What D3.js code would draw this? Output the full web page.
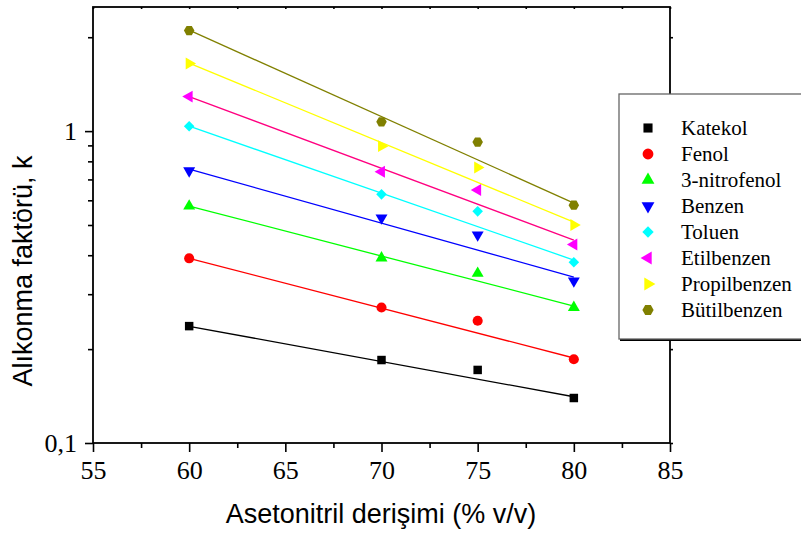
<!DOCTYPE html>
<html>
<head>
<meta charset="utf-8">
<script src="https://cdn.jsdelivr.net/npm/d3@7/dist/d3.min.js"></script>
<style>
  html, body { margin: 0; padding: 0; background: #fff; }
  svg { display: block; }
</style>
</head>
<body>
<svg id="chart" width="801" height="535"></svg>
<script>
// Acetonitrile concentration (% v/v) at which retention was measured
const concentrations = [60, 70, 75, 80];

// Retention factor k for each solute
const katekol      = [0.237, 0.1845, 0.1715, 0.1394];
const fenol        = [0.391, 0.272, 0.2466, 0.1855];
const nitrofenol   = [0.575, 0.392, 0.350, 0.272];
const benzen       = [0.746, 0.527, 0.465, 0.331];
const toluen       = [1.037, 0.627, 0.553, 0.380];
const etilbenzen   = [1.29, 0.741, 0.647, 0.433];
const propilbenzen = [1.648, 0.895, 0.765, 0.500];
const butilbenzen  = [2.10, 1.071, 0.922, 0.579];

// Fitted trend lines (log k vs. concentration): k at 60 % and at 80 %
const fitRange = [60, 80];
const fitStart = [0.2367, 0.391, 0.575, 0.755, 1.037, 1.29, 1.652, 2.107];
const fitEnd   = [0.1407, 0.1873, 0.2749, 0.3404, 0.3859, 0.4473, 0.511, 0.5877];

const seriesNames = ["Katekol", "Fenol", "3-nitrofenol", "Benzen", "Toluen",
                     "Etilbenzen", "Propilbenzen", "Bütilbenzen"];

// Axis ticks
const xMajorTicks = [55, 60, 65, 70, 75, 80, 85];
const xMinorTicks = [57.5, 62.5, 67.5, 72.5, 77.5, 82.5];
const yMajorTicks = [0.1, 1];
const yMinorTicks = [0.2, 0.3, 0.4, 0.5, 0.6, 0.7, 0.8, 0.9, 2];
const yTickLabels = ["0,1", "1"];

const xTitle = "Asetonitril derişimi (% v/v)";
const yTitle = "Alıkonma faktörü, k";

// Styling per series
const markerColors = ["#000000", "#ff0000", "#00ff00", "#0000ff", "#00ffff", "#ff00ff", "#ffff00", "#808000"];
const lineColors   = ["#000000", "#ff0000", "#00ff00", "#0000ff", "#00ffff", "#ff0080", "#ffff00", "#808000"];

const seriesValues = [katekol, fenol, nitrofenol, benzen, toluen, etilbenzen, propilbenzen, butilbenzen];

// Hexagon symbol (flat top/bottom)
const symbolHexagon = {
  draw(context, size) {
    const r = Math.sqrt(size / (1.5 * Math.sqrt(3)));
    for (let i = 0; i < 6; i++) {
      const a = Math.PI / 3 * i;
      const px = r * Math.cos(a), py = r * Math.sin(a);
      if (i === 0) context.moveTo(px, py); else context.lineTo(px, py);
    }
    context.closePath();
  }
};

// marker shape: [symbol type, size, rotation]
const markers = [
  [d3.symbolSquare, 72, 0],
  [d3.symbolCircle, 80, 0],
  [d3.symbolTriangle, 62, 0],
  [d3.symbolTriangle, 62, 180],
  [d3.symbolSquare, 56, 45],
  [d3.symbolTriangle, 62, -90],
  [d3.symbolTriangle, 62, 90],
  [symbolHexagon, 72, 0]
];

const svg = d3.select("#chart");

const x = d3.scaleLinear().domain([55, 85]).range([93, 670]);
const y = d3.scaleLog().domain([0.1, 2.5]).range([443, 7]);

const serif = "'Liberation Serif', 'Times New Roman', serif";
const sans = "'Liberation Sans', Arial, sans-serif";

const line = d3.line().x(d => x(d[0])).y(d => y(d[1]));

const plot = svg.append("g");
seriesValues.forEach((vals, i) => {
  plot.append("path")
    .attr("d", line([[fitRange[0], fitStart[i]], [fitRange[1], fitEnd[i]]]))
    .attr("fill", "none")
    .attr("stroke", lineColors[i])
    .attr("stroke-width", 1.3);
});
seriesValues.forEach((vals, i) => {
  const [type, size, rot] = markers[i];
  const sym = d3.symbol().type(type).size(size);
  plot.selectAll(null)
    .data(vals.map((v, j) => [concentrations[j], v]))
    .join("path")
    .attr("d", sym)
    .attr("transform", d => `translate(${x(d[0])},${y(d[1])}) rotate(${rot})`)
    .attr("fill", markerColors[i]);
});

// Frame
svg.append("rect")
  .attr("x", 93).attr("y", 7)
  .attr("width", 670 - 93).attr("height", 443 - 7)
  .attr("fill", "none").attr("stroke", "#000").attr("stroke-width", 1.8);

function styleAxis(g) {
  g.select(".domain").remove();
  g.selectAll(".tick line").attr("stroke", "#000").attr("stroke-width", 1.6);
  g.selectAll(".tick text").attr("font-family", serif).attr("font-size", 26).attr("fill", "#000");
}

// Bottom axis
svg.append("g").attr("transform", "translate(0,443)")
  .call(d3.axisBottom(x).tickValues(xMajorTicks).tickSize(9).tickPadding(8.5).tickFormat(d3.format("d")))
  .call(styleAxis);
svg.append("g").attr("transform", "translate(0,443)")
  .call(d3.axisBottom(x).tickValues(xMinorTicks).tickSize(5).tickFormat(""))
  .call(styleAxis);

// Left axis
svg.append("g").attr("transform", "translate(93,0)")
  .call(d3.axisLeft(y).tickValues(yMajorTicks).tickSize(8).tickPadding(8)
    .tickFormat((d, i) => yTickLabels[i]))
  .call(styleAxis);
svg.append("g").attr("transform", "translate(93,0)")
  .call(d3.axisLeft(y).tickValues(yMinorTicks).tickSize(5).tickFormat(""))
  .call(styleAxis);

// Top and right axes: short ticks, no labels
svg.append("g").attr("transform", "translate(0,7)")
  .call(d3.axisBottom(x).tickValues(xMajorTicks.concat(xMinorTicks)).tickSize(2).tickFormat(""))
  .call(styleAxis);
svg.append("g").attr("transform", "translate(670,0)")
  .call(d3.axisRight(y).tickValues(yMajorTicks.concat(yMinorTicks)).tickSize(3).tickFormat(""))
  .call(styleAxis);

// Axis titles
svg.append("text")
  .attr("x", 381).attr("y", 523)
  .attr("text-anchor", "middle")
  .attr("font-family", sans).attr("font-size", 27)
  .text(xTitle);
svg.append("text")
  .attr("transform", "translate(32,271) rotate(-90)")
  .attr("text-anchor", "middle")
  .attr("font-family", sans).attr("font-size", 27)
  .text(yTitle);

// Legend
const legend = svg.append("g");
legend.append("rect")
  .attr("x", 620).attr("y", 96).attr("width", 200).attr("height", 245)
  .attr("fill", "#000");
legend.append("rect")
  .attr("x", 619).attr("y", 94).attr("width", 200).attr("height", 245)
  .attr("fill", "#fff").attr("stroke", "#666").attr("stroke-width", 1.3);

const legendY = d3.scalePoint().domain(seriesNames).range([128, 310]);
seriesNames.forEach((name, i) => {
  const [type, size, rot] = markers[i];
  const ly = legendY(name);
  legend.append("path")
    .attr("d", d3.symbol().type(type).size(size * 1.15))
    .attr("transform", `translate(648,${ly}) rotate(${rot})`)
    .attr("fill", markerColors[i]);
  legend.append("text")
    .attr("x", 681).attr("y", ly + 7)
    .attr("font-family", serif).attr("font-size", 21)
    .text(name);
});
</script>
</body>
</html>
